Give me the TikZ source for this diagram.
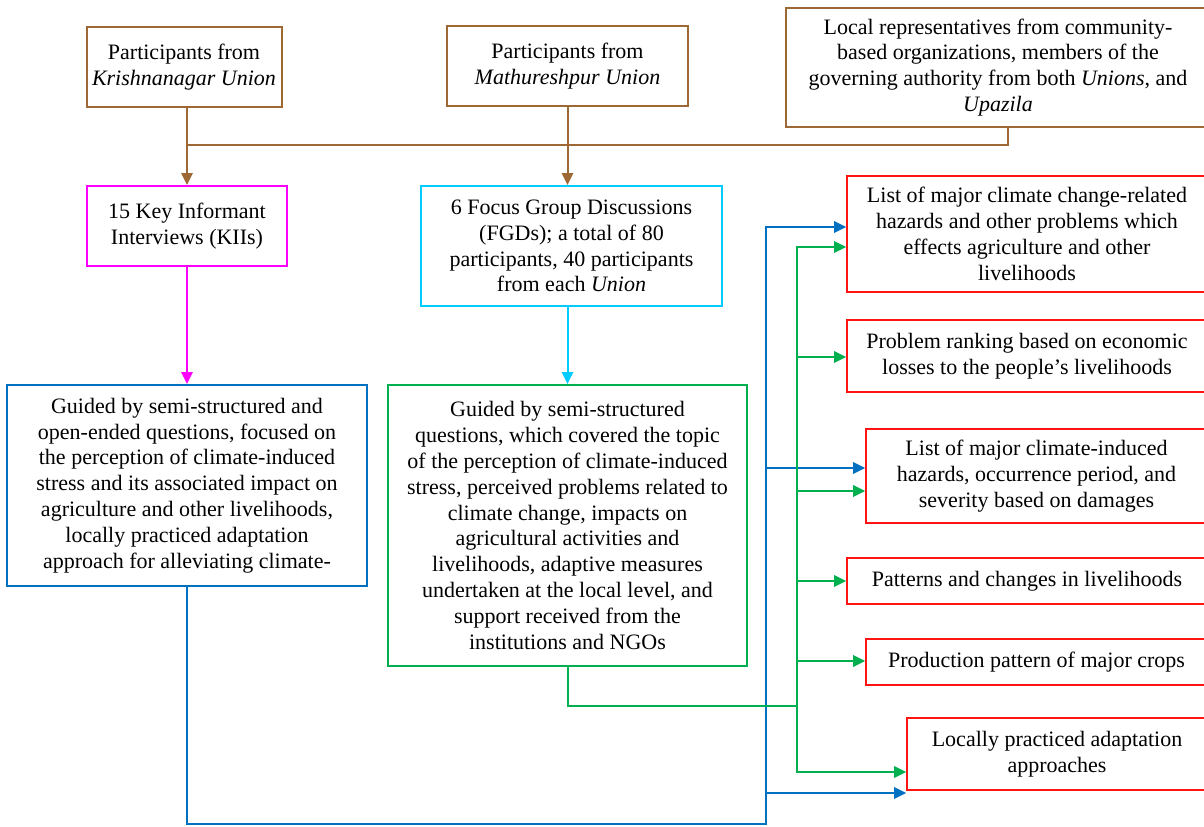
\documentclass[tikz,border=0pt]{standalone}
\usepackage{fontspec}
\setmainfont{Liberation Serif}
\usetikzlibrary{arrows.meta}
\definecolor{cbrown}{RGB}{157,104,52}
\definecolor{cpink}{RGB}{255,0,255}
\definecolor{ccyan}{RGB}{0,204,255}
\definecolor{cblue}{RGB}{0,112,192}
\definecolor{cgreen}{RGB}{0,176,80}
\definecolor{cred}{RGB}{255,20,20}
\begin{document}
\begin{tikzpicture}[x=0.75pt,y=-0.75pt,
  box/.style={draw, line width=1.5pt, align=center, inner sep=0pt,
    font=\fontsize{16.5}{19.4}\selectfont},
  redbox/.style={box, draw=cred, line width=1.2pt},
  sz/.style 2 args={minimum width=#1*0.75pt, minimum height=#2*0.75pt},
  conn/.style={line width=1.5pt},
  arr/.style={conn, -{Triangle[length=9pt,width=8.5pt]}},
  darr/.style={conn, {Triangle[length=9pt,width=8.5pt]}-{Triangle[length=9pt,width=8.5pt]}}
]
\useasboundingbox (0,0) rectangle (1204,826);

% top boxes
\node[box, draw=cbrown, sz={195}{80}] (K) at (184,67) {Participants from\\ \textit{Krishnanagar Union}};
\node[box, draw=cbrown, sz={241}{80}] (M) at (567.5,66) {Participants from\\ \textit{Mathureshpur Union}};
\node[box, draw=cbrown, sz={424}{119}] (L) at (998,67.5) {Local representatives from community-\\ based organizations, members of the\\ governing authority from both \textit{Unions}, and\\ \textit{Upazila}};

% second row
\node[box, draw=cpink, sz={200}{80}] (KII) at (187,226) {15 Key Informant\\ Interviews (KIIs)};
\node[box, draw=ccyan, sz={301}{120}] (FGD) at (571.5,246) {6 Focus Group Discussions\\ (FGDs); a total of 80\\ participants, 40 participants\\ from each \textit{Union}};

% third row
\node[box, draw=cblue, sz={360}{201}] (BL) at (187,485.5) {Guided by semi-structured and\\ open-ended questions, focused on\\ the perception of climate-induced\\ stress and its associated impact on\\ agriculture and other livelihoods,\\ locally practiced adaptation\\ approach for alleviating climate-};
\node[box, draw=cgreen, sz={359}{281}] (GR) at (567.5,525.5) {Guided by semi-structured\\ questions, which covered the topic\\ of the perception of climate-induced\\ stress, perceived problems related to\\ climate change, impacts on\\ agricultural activities and\\ livelihoods, adaptive measures\\ undertaken at the local level, and\\ support received from the\\ institutions and NGOs};

% right boxes
\node[redbox, sz={360}{116}] (R1) at (1027,234) {List of major climate change-related\\ hazards and other problems which\\ effects agriculture and other\\ livelihoods};
\node[redbox, sz={360}{72}] (R2) at (1027,356) {Problem ranking based on economic\\ losses to the people’s livelihoods};
\node[redbox, sz={341}{94}] (R3) at (1036.5,476) {List of major climate-induced\\ hazards, occurrence period, and\\ severity based on damages};
\node[redbox, sz={360}{46}] (R4) at (1027,581) {Patterns and changes in livelihoods};
\node[redbox, sz={341}{46}] (R5) at (1036.5,662) {Production pattern of major crops};
\node[redbox, sz={300}{72}] (R6) at (1057,754) {Locally practiced adaptation\\ approaches};

% brown connectors
\coordinate (bj) at (1008,145);
\draw[arr, cbrown] (K.south -| KII.north) -- (KII.north);
\draw[arr, cbrown] (M.south) -- (M.south |- FGD.north);
\draw[conn, cbrown] (L.south -| bj) -- (bj) -- (bj -| KII.north);

% pink and cyan
\draw[arr, cpink] (KII.south) -- (KII.south |- BL.north);
\draw[arr, ccyan] (FGD.south -| M.south) -- (M.south |- GR.north);

% blue connectors
\coordinate (bc) at (766,824);
\coordinate (bt) at (766,227);
\coordinate (b3) at (766,468);
\coordinate (b6) at (766,793);
\draw[arr, cblue] (BL.south) |- (bc) -- (bt) -- (R1.west |- bt);
\draw[arr, cblue] (b3) -- (R3.west |- b3);
\draw[arr, cblue] (b6) -- (R6.west |- b6);

% green connectors
\coordinate (gj) at (797,706);
\coordinate (gt) at (797,247);
\coordinate (gb) at (797,772);
\coordinate (g2) at (797,357);
\coordinate (g3) at (797,491);
\coordinate (g4) at (797,581);
\coordinate (g5) at (797,661);
\draw[conn, cgreen] (GR.south) |- (gj);
\draw[darr, cgreen] (R1.west |- gt) -- (gt) -- (gb) -- (R6.west |- gb);
\draw[arr, cgreen] (g2) -- (R2.west |- g2);
\draw[arr, cgreen] (g3) -- (R3.west |- g3);
\draw[arr, cgreen] (g4) -- (R4.west |- g4);
\draw[arr, cgreen] (g5) -- (R5.west |- g5);
\end{tikzpicture}
\end{document}
